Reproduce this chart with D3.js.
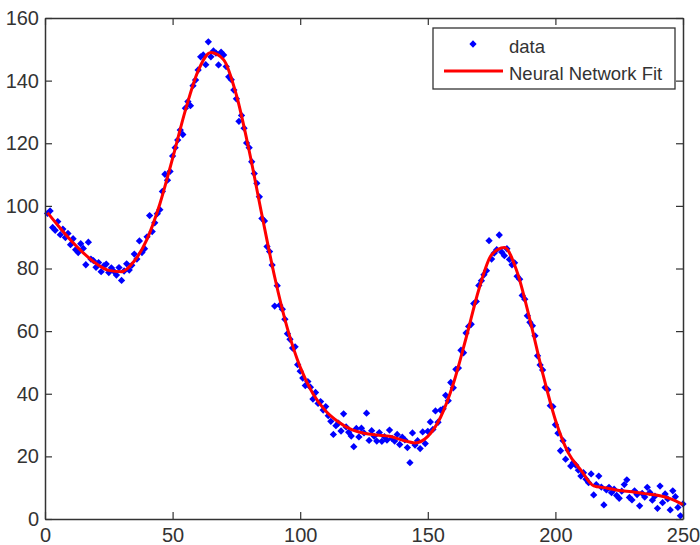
<!DOCTYPE html>
<html>
<head>
<meta charset="utf-8">
<script src="https://cdn.jsdelivr.net/npm/d3@7"></script>
<style>
  html, body { margin: 0; padding: 0; background: #fff; }
  svg { display: block; font-family: "Liberation Sans", Arial, sans-serif; }
</style>
</head>
<body>
<svg id="chart" width="700" height="545"></svg>
<script>
// ---------------- data ----------------
// observed points, x = 1..250
const dataY = [
  97.6, 98.4, 93.1, 92.2, 95.0, 90.8, 92.6, 89.9, 91.2, 87.6,
  89.5, 86.0, 85.1, 87.9, 86.4, 81.2, 88.4, 83.0, 82.5, 80.4,
  81.9, 79.0, 80.8, 81.4, 78.7, 80.2, 79.1, 77.9, 80.3, 76.2,
  79.2, 81.5, 79.5, 81.0, 84.6, 83.0, 88.8, 85.1, 86.3, 90.1,
  96.9, 91.8, 94.6, 97.5, 98.8, 104.6, 110.1, 108.2, 111.0, 115.9,
  118.6, 121.0, 124.2, 122.8, 131.2, 133.3, 132.0, 138.4, 140.2, 143.4,
  147.6, 148.2, 145.1, 152.4, 147.6, 149.5, 148.8, 145.0, 149.1, 148.2,
  144.5, 141.2, 140.3, 137.0, 134.2, 127.0, 128.9, 124.8, 120.1, 118.6,
  114.1, 110.3, 107.2, 102.9, 96.0, 95.2, 87.0, 85.4, 81.1, 68.0,
  74.5, 68.3, 67.0, 63.8, 59.2, 57.4, 54.6, 55.0, 49.3, 47.2,
  45.0, 42.6, 43.9, 42.1, 38.3, 40.4, 36.9, 37.5, 34.8, 35.9,
  33.0, 31.2, 27.0, 29.8, 30.6, 28.1, 33.6, 29.4, 27.7, 26.5,
  23.1, 28.9, 26.2, 29.0, 27.5, 33.8, 25.1, 28.2, 26.4, 24.9,
  27.6, 24.8, 26.3, 25.2, 28.4, 25.7, 24.9, 27.0, 23.8, 26.1,
  25.3, 22.8, 18.0, 27.5, 23.6, 25.0, 22.5, 27.8, 24.1, 28.0,
  31.0, 28.6, 34.5, 30.9, 34.8, 35.2, 39.5, 37.8, 43.6, 41.9,
  47.8, 48.2, 53.9, 53.1, 59.4, 61.5, 62.2, 68.8, 69.5, 74.6,
  76.1, 78.0, 79.3, 88.9, 83.0, 84.9, 86.0, 90.7, 85.2, 84.1,
  86.3, 82.9, 81.2, 81.8, 77.5, 76.6, 71.4, 70.2, 64.9, 62.8,
  61.7, 58.5, 52.1, 49.2, 47.6, 42.0, 41.3, 36.2, 35.9, 30.1,
  27.4, 21.8, 25.0, 19.1, 22.0, 16.9, 18.0, 17.2, 15.6, 13.7,
  14.8, 12.7, 11.6, 14.4, 7.7, 11.0, 13.7, 10.2, 4.5, 9.3,
  10.1, 8.4, 9.5, 7.5, 6.6, 8.9, 11.0, 12.5, 6.9, 6.1,
  9.0, 7.8, 4.2, 8.2, 7.0, 10.1, 8.5, 6.0, 7.3, 3.4,
  10.5, 5.2, 8.0, 6.4, 2.9, 9.0, 7.1, 3.7, 1.0, 4.8
];
const dataX = dataY.map((_, i) => i + 1);

// neural network fit curve, read at these x positions
const fitX = [1, 5, 10, 15, 20, 25, 30, 35, 40, 45, 50, 55, 60, 65, 70, 75, 80, 85, 90, 95,
              100, 105, 110, 115, 120, 125, 130, 135, 140, 145, 150, 155, 160, 165, 170, 175,
              180, 185, 190, 195, 200, 205, 210, 215, 220, 225, 230, 235, 240, 245, 250];
const fitY = [97.8, 93.8, 89.1, 85.0, 81.6, 79.4, 79.0, 82.4, 89.4, 100.6, 115.2, 130.5, 143.1, 149.0, 146.7, 135.4, 117.6, 97.1, 77.3, 60.8,
              48.5, 40.0, 34.5, 31.0, 28.6, 27.4, 26.8, 26.4, 25.2, 24.3, 26.4, 32.5, 43.2, 57.8, 73.3, 84.4,
              86.7, 78.9, 63.7, 46.6, 31.6, 21.2, 15.6, 10.6, 9.9, 9.1, 8.7, 8.1, 7.6, 6.5, 4.6];

const xTicks = [0, 50, 100, 150, 200, 250];
const yTicks = [0, 20, 40, 60, 80, 100, 120, 140, 160];
const legendLabels = ["data", "Neural Network Fit"];

// ---------------- drawing ----------------
const svg = d3.select("#chart");
const pl = 45, pr = 683, pt = 18, pb = 519;
const x = d3.scaleLinear().domain([0, 250]).range([pl, pr]);
const y = d3.scaleLinear().domain([0, 160]).range([pb, pt]);

const axisColor = "#333";
const tickLen = 7;
const markerSize = 34;

// data points
svg.append("g")
  .selectAll("path")
  .data(dataX.map((d, i) => [d, dataY[i]]))
  .join("path")
  .attr("d", d3.symbol(d3.symbolDiamond2, markerSize))
  .attr("transform", d => `translate(${x(d[0])},${y(d[1])})`)
  .attr("fill", "#0000ff");

// fit line
const line = d3.line()
  .x((d) => x(d[0]))
  .y((d) => y(d[1]))
  .curve(d3.curveMonotoneX);
svg.append("path")
  .datum(fitX.map((d, i) => [d, fitY[i]]))
  .attr("d", line)
  .attr("fill", "none")
  .attr("stroke", "#ff0000")
  .attr("stroke-width", 3)
  .attr("stroke-linejoin", "round");

// axes (MATLAB style: inward ticks, boxed)
const fontSize = 20;
const gx = svg.append("g").attr("transform", `translate(0,${pb})`)
  .call(d3.axisBottom(x).tickValues(xTicks).tickFormat(d3.format("d")).tickSizeInner(-tickLen).tickSizeOuter(0).tickPadding(9));
const gy = svg.append("g").attr("transform", `translate(${pl},0)`)
  .call(d3.axisLeft(y).tickValues(yTicks).tickFormat(d3.format("d")).tickSizeInner(-tickLen).tickSizeOuter(0).tickPadding(6));
const gt = svg.append("g").attr("transform", `translate(0,${pt})`)
  .call(d3.axisTop(x).tickValues(xTicks).tickFormat("").tickSizeInner(-tickLen).tickSizeOuter(0));
const gr = svg.append("g").attr("transform", `translate(${pr},0)`)
  .call(d3.axisRight(y).tickValues(yTicks).tickFormat("").tickSizeInner(-tickLen).tickSizeOuter(0));

[gx, gy, gt, gr].forEach(g => {
  g.select(".domain").attr("stroke", axisColor).attr("stroke-width", 1.5);
  g.selectAll(".tick line").attr("stroke", axisColor).attr("stroke-width", 1.2);
  g.selectAll(".tick text").attr("fill", "#333").attr("font-size", fontSize)
    .attr("font-family", "'Liberation Sans', Arial, sans-serif");
});

// legend
const lg = svg.append("g");
lg.append("rect")
  .attr("x", 433).attr("y", 28).attr("width", 242).attr("height", 61)
  .attr("fill", "#fff").attr("stroke", axisColor).attr("stroke-width", 1.3);
lg.append("path")
  .attr("d", d3.symbol(d3.symbolDiamond2, markerSize))
  .attr("transform", "translate(473,44)")
  .attr("fill", "#0000ff");
lg.append("line")
  .attr("x1", 444).attr("x2", 503).attr("y1", 71).attr("y2", 71)
  .attr("stroke", "#ff0000").attr("stroke-width", 3);
lg.selectAll("text.lab")
  .data(legendLabels)
  .join("text")
  .attr("class", "lab")
  .attr("x", 509)
  .attr("y", (d, i) => 53 + i * 26.5)
  .attr("font-size", 18.5)
  .attr("fill", "#333")
  .text(d => d);
</script>
</body>
</html>
